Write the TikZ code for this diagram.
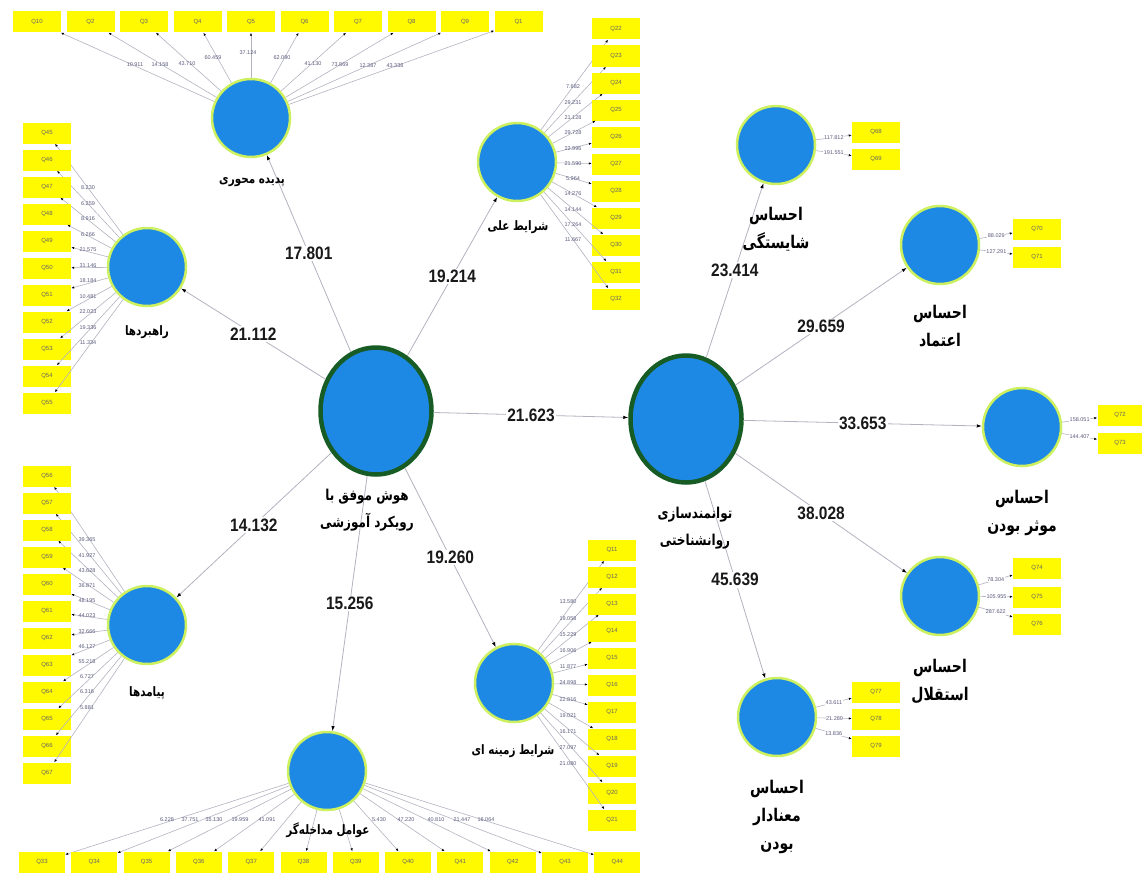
\documentclass[tikz,border=0pt]{standalone}
\usepackage{fontspec}
\setmainfont{Liberation Sans}
\newfontfamily\fafont[Script=Arabic,FakeStretch=0.8]{DejaVu Sans}
\newfontfamily\nrfont[FakeStretch=0.86]{Liberation Sans}
\TeXXeTstate=1
\usetikzlibrary{arrows.meta,shapes.geometric}
\tikzset{>={Latex[length=5pt,width=3.5pt,color=black]}}
\definecolor{lvb}{RGB}{30,136,229}
\definecolor{lvr}{RGB}{205,240,95}
\definecolor{lvg}{RGB}{22,92,36}
\definecolor{mvy}{RGB}{255,250,0}
\definecolor{lng}{RGB}{178,178,192}
\definecolor{ldc}{RGB}{90,90,125}
\newcommand*{\fa}[1]{{\fafont\beginR #1\endR}}
\tikzset{
  lv/.style={circle, fill=lvb, draw=lvr, line width=2.5pt, minimum size=78pt, inner sep=0pt},
  lvc/.style={ellipse, fill=lvb, draw=lvg, line width=4.5pt, minimum width=111pt, minimum height=127pt, inner sep=0pt},
  mv/.style={rectangle, fill=mvy, minimum width=48pt, minimum height=21pt, inner sep=0pt, text=black!60, font=\fontsize{6}{7}\selectfont},
  ttl/.style={align=center, text=black, font=\fafont\bfseries\fontsize{13}{26}\selectfont},
  ttlc/.style={align=center, text=black, font=\fafont\bfseries\fontsize{15}{27}\selectfont},
  ttlb/.style={align=center, text=black, font=\fafont\bfseries\fontsize{17.5}{28}\selectfont},
  pth/.style={fill=white, text=black!90, inner sep=1.5pt, font=\nrfont\bfseries\fontsize{18}{19}\selectfont},
  lod/.style={text=ldc, inner sep=0.5pt, font=\fontsize{5.5}{6}\selectfont},
  ind/.style={lng, line width=0.6pt, -{Latex[length=3pt,width=2.4pt,color=black]}},
  arc/.style={lng, line width=0.8pt, ->},
}

\begin{document}
\begin{tikzpicture}[x=1pt,y=-1pt]
    \useasboundingbox (0,0) rectangle (1142,875);
    % constructs
    \node[lvc](hm) at (376,411){};
    \node[lvc](tr) at (686,419){};
    \node[lv](pm) at (251,118){};
    \node[lv](rh) at (147,267){};
    \node[lv](pd) at (147,625){};
    \node[lv](am) at (327,771){};
    \node[lv](sa) at (517,162){};
    \node[lv](sz) at (514,683){};
    \node[lv](ash) at (776,145){};
    \node[lv](aet) at (940,245){};
    \node[lv](amb) at (1022,427){};
    \node[lv](ast) at (940,596){};
    \node[lv](amn) at (777,717){};
    % indicators
    \foreach \q [count=\i from 0] in {10,2,3,4,5,6,7,8,9,1}{
        \node[mv](q\q) at ({37+53.5*\i},22){Q\q};
        \draw[ind](pm)--(q\q);
    }
    \foreach \i in {0,...,10}{
        \pgfmathtruncatemacro\q{45+\i}
        \node[mv](q\q) at (47,{133+27*\i}){Q\q};
        \draw[ind](rh)--(q\q);
    }
    \foreach \i in {0,...,11}{
        \pgfmathtruncatemacro\q{56+\i}
        \node[mv](q\q) at (47,{476+27*\i}){Q\q};
        \draw[ind](pd)--(q\q);
    }
    \foreach \i in {0,...,10}{
        \pgfmathtruncatemacro\q{22+\i}
        \node[mv](q\q) at (616,{29+27*\i}){Q\q};
        \draw[ind](sa)--(q\q);
    }
    \foreach \i in {0,...,10}{
        \pgfmathtruncatemacro\q{11+\i}
        \node[mv](q\q) at (612,{550+27*\i}){Q\q};
        \draw[ind](sz)--(q\q);
    }
    \foreach \i in {0,...,11}{
        \pgfmathtruncatemacro\q{33+\i}
        \node[mv, minimum width=46pt](q\q) at ({42+52.3*\i},862){Q\q};
        \draw[ind](am)--(q\q);
    }
    % loadings
    \foreach \x/\y/\v [count=\i] in {135/65/10.911, 160/65/14.158, 187/64/43.710, 213/58/60.459, 248/53/37.124, 282/58/62.090, 313/64/41.130, 340/65/73.869, 368/66/12.387, 395/66/43.338}
        \node[lod](lpm\i) at (\x,\y){\v};
    \foreach \v [count=\i from 0] in {8.230,6.259,8.916,6.266,21.575,31.146,18.184,10.481,22.023,19.336,11.334}
        \node[lod](lrh\i) at (88,{188+15.5*\i}){\v};
    \foreach \v [count=\i from 0] in {39.365,41.927,43.628,36.871,48.195,44.023,32.666,46.127,55.218,6.727,6.316,5.881}
        \node[lod](lpd\i) at (87,{540+15.2*\i}){\v};
    \foreach \v [count=\i from 0] in {7.682,29.231,21.128,29.728,22.996,21.590,5.964,14.276,14.144,17.264,11.667}
        \node[lod](lsa\i) at (573,{87+15.3*\i}){\v};
    \foreach \v [count=\i from 0] in {13.580,19.058,15.229,16.906,11.877,24.898,22.816,19.021,16.171,27.097,21.080}
        \node[lod](lsz\i) at (568,{602+16.2*\i}){\v};
    \foreach \x/\v [count=\i] in {167/6.228, 190/37.751, 214/35.130, 240/19.959, 267/41.091, 379/5.430, 406/47.220, 436/40.810, 462/21.447, 486/16.064}
        \node[lod](lam\i) at (\x,820){\v};
    % small blocks
    \node[mv](q68) at (876,132){Q68};
    \node[mv](q69) at (876,159){Q69};
    \node[mv](q70) at (1037,229){Q70};
    \node[mv](q71) at (1037,257){Q71};
    \node[mv, minimum width=45pt](q72) at (1120,415){Q72};
    \node[mv, minimum width=45pt](q73) at (1120,443){Q73};
    \node[mv](q74) at (1037,568){Q74};
    \node[mv](q75) at (1037,597){Q75};
    \node[mv](q76) at (1037,624){Q76};
    \node[mv](q77) at (876,692){Q77};
    \node[mv](q78) at (876,719){Q78};
    \node[mv](q79) at (876,746){Q79};
    \draw[ind](ash)--node[lod, fill=white](l68){117.812}(q68);
    \draw[ind](ash)--node[lod, fill=white](l69){191.551}(q69);
    \draw[ind](aet)--node[lod, fill=white](l70){88.029}(q70);
    \draw[ind](aet)--node[lod, fill=white](l71){127.291}(q71);
    \draw[ind](amb)--node[lod, fill=white](l72){158.051}(q72);
    \draw[ind](amb)--node[lod, fill=white](l73){144.407}(q73);
    \draw[ind](ast)--node[lod, fill=white](l74){78.304}(q74);
    \draw[ind](ast)--node[lod, fill=white](l75){105.955}(q75);
    \draw[ind](ast)--node[lod, fill=white](l76){287.622}(q76);
    \draw[ind](amn)--node[lod, fill=white](l77){43.611}(q77);
    \draw[ind](amn)--node[lod, fill=white](l78){21.289}(q78);
    \draw[ind](amn)--node[lod, fill=white](l79){13.836}(q79);
    % paths
    \draw[arc](hm)--node[pth](p1){17.801}(pm);
    \draw[arc](hm)--node[pth](p2){21.112}(rh);
    \draw[arc](hm)--node[pth](p3){14.132}(pd);
    \draw[arc](hm)--node[pth](p4){15.256}(am);
    \draw[arc](hm)--node[pth](p5){19.214}(sa);
    \draw[arc](hm)--node[pth](p6){19.260}(sz);
    \draw[arc](hm)--node[pth](p7){21.623}(tr);
    \draw[arc](tr)--node[pth](p8){23.414}(ash);
    \draw[arc](tr)--node[pth](p9){29.659}(aet);
    \draw[arc](tr)--node[pth](p10){33.653}(amb);
    \draw[arc](tr)--node[pth](p11){38.028}(ast);
    \draw[arc](tr)--node[pth](p12){45.639}(amn);
    % titles
    \node[ttlc](thm) at (367,510){\fa{هوش موفق با}\\\fa{رویکرد آموزشی}};
    \node[ttlc](ttr) at (695,528){\fa{توانمندسازی}\\\fa{روانشناختی}};
    \node[ttl](tpm) at (252,182){\fa{پدیده محوری}};
    \node[ttl](trh) at (147,332){\fa{راهبردها}};
    \node[ttl](tpd) at (147,693){\fa{پیامدها}};
    \node[ttl](tam) at (328,830){\fa{عوامل مداخله‌گر}};
    \node[ttl](tsa) at (518,227){\fa{شرایط علی}};
    \node[ttl](tsz) at (513,751){\fa{شرایط زمینه ای}};
    \node[ttlb](tash) at (776,229){\fa{احساس}\\\fa{شایستگی}};
    \node[ttlb](taet) at (940,326){\fa{احساس}\\\fa{اعتماد}};
    \node[ttlb](tamb) at (1022,513){\fa{احساس}\\\fa{موثر بودن}};
    \node[ttlb](tast) at (940,681){\fa{احساس}\\\fa{استقلال}};
    \node[ttlb](tamn) at (777,817){\fa{احساس}\\\fa{معنادار}\\\fa{بودن}};
\end{tikzpicture}
\end{document}
